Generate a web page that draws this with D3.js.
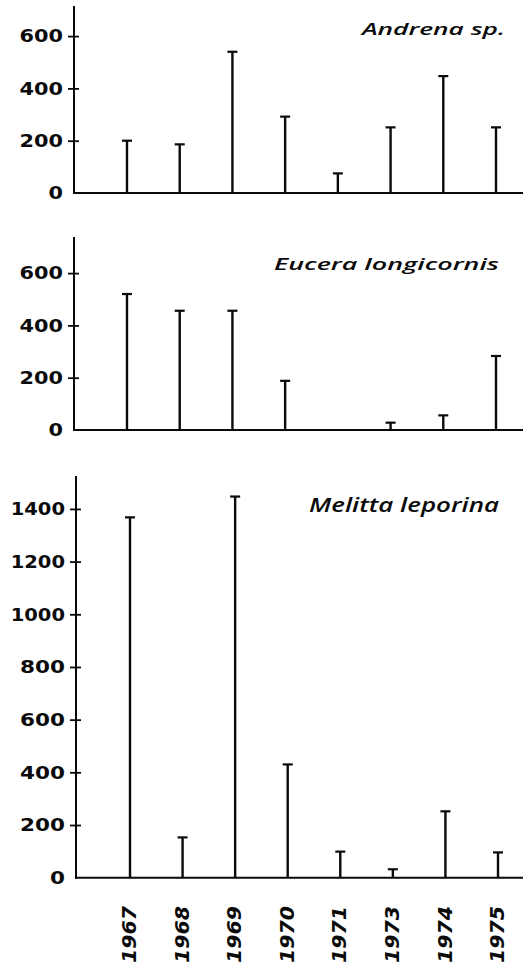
<!DOCTYPE html>
<html>
<head>
<meta charset="utf-8">
<script src="https://cdn.jsdelivr.net/npm/d3@7"></script>
<style>
  html, body { margin: 0; padding: 0; background: #fff; }
  svg { display: block; }
</style>
</head>
<body>
<svg id="chart" width="525" height="971"></svg>
<script>
// ---- data ----
const years = ["1967", "1968", "1969", "1970", "1971", "1973", "1974", "1975"];
const andrena = [200, 186, 540, 292, 75, 251, 447, 251];
const eucera = [520, 456, 456, 188, 0, 28, 56, 283];
const melitta = [1368, 153, 1447, 430, 99, 32, 252, 96];
const speciesNames = ["Andrena sp.", "Eucera longicornis", "Melitta leporina"];
const ticksSmall = [0, 200, 400, 600];
const ticksLarge = [0, 200, 400, 600, 800, 1000, 1200, 1400];

// ---- layout ----
const svg = d3.select("#chart");
const ink = "#0a0a0a";

const panels = [
  { name: speciesNames[0], values: andrena, ticks: ticksSmall, yMax: 715,
    axisX: 74, yBottom: 193, yTop: 6, xFirst: 127, xLast: 496,
    tickFont: 18, titleFont: 16, titleX: 505, titleY: 35, titleLen: 143, charW: 14.5 },
  { name: speciesNames[1], values: eucera, ticks: ticksSmall, yMax: 738,
    axisX: 74, yBottom: 430, yTop: 237, xFirst: 127, xLast: 496,
    tickFont: 18, titleFont: 16, titleX: 499, titleY: 270, titleLen: 225, charW: 14.5 },
  { name: speciesNames[2], values: melitta, ticks: ticksLarge, yMax: 1525,
    axisX: 76, yBottom: 877.7, yTop: 476, xFirst: 130, xLast: 498,
    tickFont: 18, titleFont: 19, titleX: 499, titleY: 512, titleLen: 190, charW: 15 }
];

function labelLen(s, w) {
  let L = 0;
  for (const ch of s) L += (ch === "1") ? w * 0.62 : w;
  return L;
}

panels.forEach((p, pi) => {
  const g = svg.append("g");
  const y = d3.scaleLinear().domain([0, p.yMax]).range([p.yBottom, p.yTop]);
  const x = d3.scalePoint().domain(years).range([p.xFirst, p.xLast]);

  // x axis baseline
  g.append("line")
    .attr("x1", p.axisX - 1).attr("x2", 523)
    .attr("y1", y(0)).attr("y2", y(0))
    .attr("stroke", ink).attr("stroke-width", 2);

  // y axis
  const yAxis = d3.axisLeft(y).tickValues(p.ticks).tickSize(6).tickPadding(5).tickFormat(d3.format("d"));
  const ga = g.append("g").attr("transform", `translate(${p.axisX},0)`).call(yAxis);
  ga.select(".domain").remove();
  ga.selectAll(".tick line").attr("stroke", ink).attr("stroke-width", 1.8).attr("x1", 5);
  ga.selectAll(".tick").filter(d => d === 0).select("line").remove();
  ga.selectAll(".tick text")
    .attr("fill", ink)
    .style("font-family", "'DejaVu Sans', sans-serif")
    .style("font-weight", "bold")
    .style("font-size", p.tickFont + "px")
    .attr("textLength", d => labelLen(String(d), p.charW))
    .attr("lengthAdjust", "spacingAndGlyphs");
  g.append("line")
    .attr("x1", p.axisX).attr("x2", p.axisX)
    .attr("y1", y(p.yMax)).attr("y2", y(0) + 1)
    .attr("stroke", ink).attr("stroke-width", 2);

  // stems
  const data = years.map((yr, i) => ({ yr, v: p.values[i] })).filter(d => d.v > 0);
  g.selectAll(".stem").data(data).enter().append("line")
    .attr("x1", d => x(d.yr)).attr("x2", d => x(d.yr))
    .attr("y1", y(0)).attr("y2", d => y(d.v))
    .attr("stroke", ink).attr("stroke-width", 2.4);
  g.selectAll(".cap").data(data).enter().append("line")
    .attr("x1", d => x(d.yr) - 5).attr("x2", d => x(d.yr) + 5)
    .attr("y1", d => y(d.v)).attr("y2", d => y(d.v))
    .attr("stroke", ink).attr("stroke-width", 2.2);

  // title
  g.append("text")
    .attr("x", p.titleX).attr("y", p.titleY)
    .attr("text-anchor", "end")
    .attr("fill", ink)
    .style("font-family", "'Open Sans', sans-serif")
    .style("font-style", "italic")
    .style("font-weight", 600)
    .style("font-size", p.titleFont + "px")
    .attr("textLength", p.titleLen)
    .attr("lengthAdjust", "spacingAndGlyphs")
    .text(p.name);

  // year labels under the last panel
  if (pi === panels.length - 1) {
    g.selectAll(".yr").data(years).enter().append("text")
      .attr("transform", d => `translate(${x(d) - 1},963) rotate(-90)`)
      .attr("dy", "0.36em")
      .attr("text-anchor", "start")
      .attr("fill", ink)
      .style("font-family", "'DejaVu Sans', sans-serif")
      .style("font-weight", "bold")
      .style("font-style", "italic")
      .style("font-size", "20px")
      .attr("textLength", 57)
      .attr("lengthAdjust", "spacingAndGlyphs")
      .text(d => d);
  }
});
</script>
</body>
</html>
